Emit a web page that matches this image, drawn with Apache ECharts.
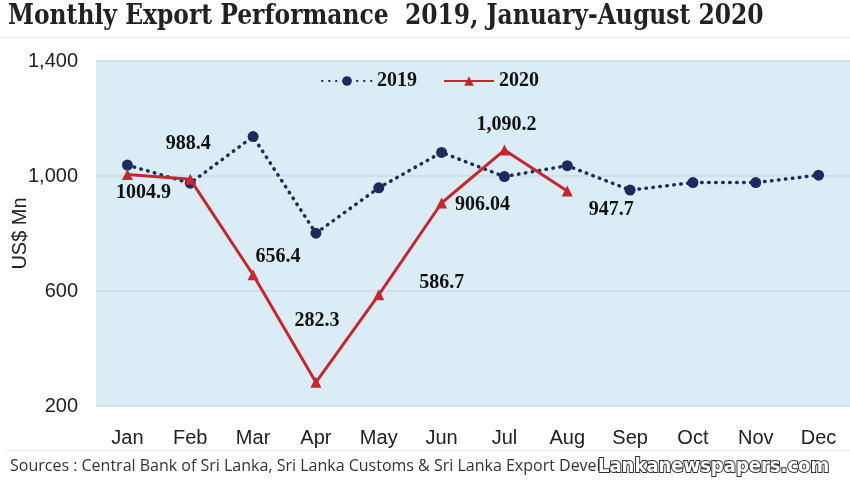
<!DOCTYPE html>
<html>
<head>
<meta charset="utf-8">
<script src="https://cdn.jsdelivr.net/npm/echarts@6/dist/echarts.min.js"></script>
<style>
  html, body { margin: 0; padding: 0; background: #fff; }
  #chart { width: 850px; height: 489px; }
</style>
</head>
<body>
<div id="chart"></div>
<script>
const months = ['Jan', 'Feb', 'Mar', 'Apr', 'May', 'Jun', 'Jul', 'Aug', 'Sep', 'Oct', 'Nov', 'Dec']
// 2019 (no labels shown)
const exports2019 = [1038, 975, 1137, 801, 959, 1082, 998, 1036, 951, 977, 977, 1003]
const exports2020 = [1004.9, 988.4, 656.4, 282.3, 586.7, 906.04, 1090.2, 947.7]
const labels2020 = ['1004.9', '988.4', '656.4', '282.3', '586.7', '906.04', '1,090.2', '947.7']
const yTicks = [200, 600, 1000, 1400]

// where each 2020 label sits relative to its point
const labelOffsets = [[16, 18], [-2, -36], [25, -18], [1, -62], [63, -12], [41, 2], [2, -25], [44, 19]]

const chart = echarts.init(document.getElementById('chart'))

const labelFont = {
  fontFamily: 'Liberation Serif',
  fontWeight: 'bold',
  fontSize: 20,
  color: '#111'
}

const option = {
  backgroundColor: '#fff',
  animation: false,
  grid: {
    left: 96,
    right: 0,
    top: 61,
    bottom: 83,
    containLabel: false,
    outerBoundsMode: 'none',
    show: true,
    backgroundColor: '#daedf7',
    borderWidth: 0
  },
  legend: {
    top: 66,
    left: 316,
    itemWidth: 50,
    itemHeight: 12,
    itemGap: 26,
    textStyle: { ...labelFont, fontSize: 20 },
    data: ['2019', '2020']
  },
  xAxis: {
    type: 'category',
    data: months,
    axisLine: { show: false },
    axisTick: { show: false },
    axisLabel: {
      margin: 22,
      fontFamily: 'Liberation Sans',
      fontSize: 20,
      color: '#222'
    }
  },
  yAxis: {
    type: 'value',
    min: yTicks[0],
    max: yTicks[yTicks.length - 1],
    interval: 400,
    name: 'US$ Mn',
    nameLocation: 'middle',
    nameGap: 66,
    nameMoveOverlap: false,
    nameTextStyle: { fontFamily: 'Liberation Sans', fontSize: 20, color: '#222' },
    axisLine: { show: false },
    axisTick: { show: false },
    splitLine: { lineStyle: { color: '#c6dbe5', width: 1.5 } },
    axisLabel: {
      margin: 18,
      fontFamily: 'Liberation Sans',
      fontSize: 20,
      color: '#222',
      formatter: v => v.toLocaleString('en-US')
    }
  },
  series: [
    {
      name: '2019',
      type: 'line',
      data: exports2019,
      symbol: 'circle',
      symbolSize: 11,
      itemStyle: { color: '#1d2a5e' },
      lineStyle: { color: '#1d2a5e', width: 3.5, type: [0.5, 6.5], cap: 'round' },
      z: 2
    },
    {
      name: '2020',
      type: 'line',
      data: exports2020.map((v, i) => ({
        value: v,
        label: {
          show: true,
          position: 'inside',
          offset: labelOffsets[i],
          formatter: labels2020[i],
          ...labelFont
        }
      })),
      symbol: 'triangle',
      symbolSize: 11,
      itemStyle: { color: '#c8262d' },
      lineStyle: { color: '#c8262d', width: 3 },
      z: 3
    }
  ],
  graphic: [
    {
      type: 'text',
      left: 8,
      top: 3,
      scaleX: 0.93,
      style: {
        text: 'Monthly Export Performance  2019, January-August 2020',
        font: 'bold 28px "DejaVu Serif Condensed"',
        fill: '#222'
      }
    },
    {
      type: 'rect',
      shape: { x: 0, y: 37, width: 850, height: 1 },
      style: { fill: '#e6e6e6' }
    },
    {
      type: 'rect',
      shape: { x: 5, y: 450, width: 845, height: 1 },
      style: { fill: '#ececec' }
    },
    {
      type: 'text',
      left: 10,
      top: 458,
      style: {
        text: 'Sources : Central Bank of Sri Lanka, Sri Lanka Customs & Sri Lanka Export Devel',
        font: '16px "Open Sans"',
        fill: '#333'
      }
    },
    {
      type: 'text',
      left: 597,
      top: 456,
      style: {
        text: 'Lankanewspapers.com',
        font: 'bold 20px "DejaVu Sans Condensed"',
        fill: '#fff',
        stroke: '#333',
        lineWidth: 2
      }
    }
  ]
}

chart.setOption(option)
</script>
</body>
</html>
